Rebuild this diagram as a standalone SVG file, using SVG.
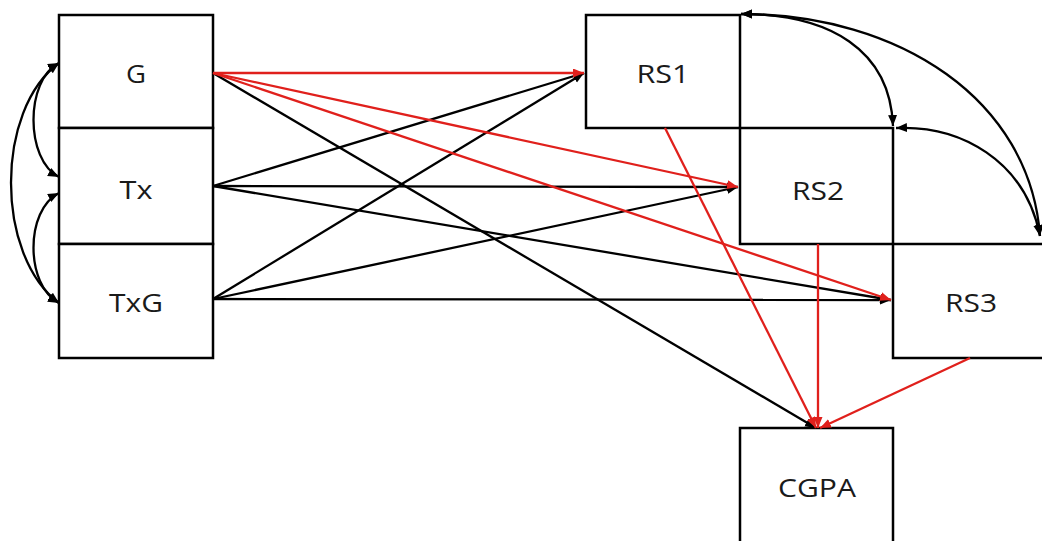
<svg xmlns="http://www.w3.org/2000/svg" width="1042" height="541" viewBox="0 0 1042 541">
<style>
.box{fill:#fff;stroke:#000;stroke-width:2.5}
.lbl{font-family:"Open Sans","Liberation Sans",sans-serif;font-size:26px;fill:#1a1a1a;text-anchor:middle}
.k{fill:none;stroke:#000;stroke-width:2.3}
.r{fill:none;stroke:#e0201c;stroke-width:2.3}
</style>
<defs>
<marker id="ak" markerUnits="userSpaceOnUse" markerWidth="12" markerHeight="10" refX="11" refY="4.5" orient="auto-start-reverse"><path d="M0,0 L11,4.5 L0,9 z" fill="#000"/></marker>
<marker id="ar" markerUnits="userSpaceOnUse" markerWidth="12" markerHeight="10" refX="11" refY="4.5" orient="auto"><path d="M0,0 L11,4.5 L0,9 z" fill="#e0201c"/></marker>
</defs>
<rect width="1042" height="541" fill="#fff"/>
<g id="G"><rect class="box" x="59" y="15" width="154" height="113"/><text class="lbl" x="136" y="83" textLength="20" lengthAdjust="spacingAndGlyphs">G</text></g>
<g id="Tx"><rect class="box" x="59" y="128" width="154" height="116"/><text class="lbl" x="136" y="199" textLength="33" lengthAdjust="spacingAndGlyphs">Tx</text></g>
<g id="TxG"><rect class="box" x="59" y="244" width="154" height="114"/><text class="lbl" x="136" y="312" textLength="54" lengthAdjust="spacingAndGlyphs">TxG</text></g>
<g id="RS1"><rect class="box" x="586" y="15" width="154" height="113"/><text class="lbl" x="663" y="83" textLength="53" lengthAdjust="spacingAndGlyphs">RS1</text></g>
<g id="RS2"><rect class="box" x="740" y="128" width="153" height="116"/><text class="lbl" x="818" y="200" textLength="52" lengthAdjust="spacingAndGlyphs">RS2</text></g>
<g id="RS3"><rect class="box" x="893" y="244" width="160" height="114"/><text class="lbl" x="971" y="312" textLength="52" lengthAdjust="spacingAndGlyphs">RS3</text></g>
<g id="CGPA"><rect class="box" x="740" y="428" width="153" height="120"/><text class="lbl" x="817" y="497" textLength="78" lengthAdjust="spacingAndGlyphs">CGPA</text></g>
<g id="connectors">
<path class="k" d="M213,186 L584,73" marker-end="url(#ak)"/>
<path class="k" d="M213,299 L584,73" marker-end="url(#ak)"/>
<path class="k" d="M213,186 L738,187" marker-end="url(#ak)"/>
<path class="k" d="M213,299 L738,187" marker-end="url(#ak)"/>
<path class="k" d="M213,186 L891,300" marker-end="url(#ak)"/>
<path class="k" d="M213,299 L891,300" marker-end="url(#ak)"/>
<path class="k" d="M213,73 L816,428" marker-end="url(#ak)"/>
<path class="r" d="M213,73 L584,73" marker-end="url(#ar)"/>
<path class="r" d="M213,73 L738,187" marker-end="url(#ar)"/>
<path class="r" d="M213,73 L891,300" marker-end="url(#ar)"/>
<path class="r" d="M665,128 L816,428" marker-end="url(#ar)"/>
<path class="r" d="M818,244 L818,428" marker-end="url(#ar)"/>
<path class="r" d="M970,358 L820,428" marker-end="url(#ar)"/>
<path class="k" d="M59,63 C25,80 25,160 59,177" marker-start="url(#ak)" marker-end="url(#ak)"/>
<path class="k" d="M59,193 C25,210 25,285 59,303" marker-start="url(#ak)" marker-end="url(#ak)"/>
<path class="k" d="M59,63 C-5,110 -5,255 59,303" marker-start="url(#ak)" marker-end="url(#ak)"/>
<path class="k" d="M741,14 C830,14 890,50 893,126" marker-start="url(#ak)" marker-end="url(#ak)"/>
<path class="k" d="M741,14 C900,14 1030,100 1040,236" marker-start="url(#ak)" marker-end="url(#ak)"/>
<path class="k" d="M896,128 C960,125 1025,160 1040,236" marker-start="url(#ak)" marker-end="url(#ak)"/>
</g>
</svg>
